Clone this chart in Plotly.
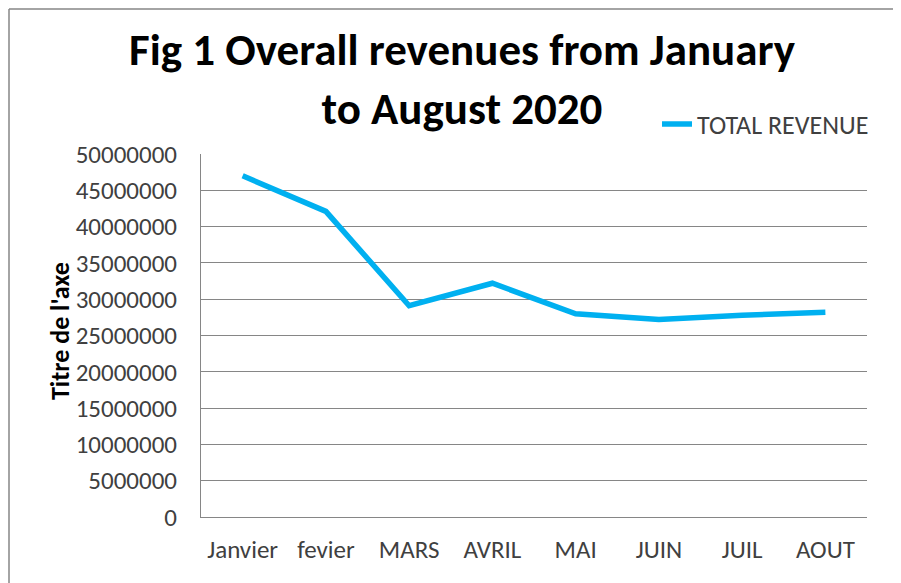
import plotly.graph_objects as go

months = ["Janvier", "fevier", "MARS", "AVRIL", "MAI", "JUIN", "JUIL", "AOUT"]
total_revenue = [47000000, 42100000, 29100000, 32200000, 28000000, 27200000, 27800000, 28200000]
y_ticks = list(range(0, 50000001, 5000000))

font_family = "Carlito, Calibri, Lato, sans-serif"

# page body has an 8px margin, so plot box is placed in figure px accordingly
left, right, top, bottom = 193, 859, 146, 509
pw, ph = right - left, bottom - top


def px(x):
    return (x - 8 - left) / pw


def py(y):
    return (bottom - (y - 8)) / ph


fig = go.Figure()
fig.add_trace(go.Scatter(x=months, y=total_revenue, mode="lines", name="TOTAL REVENUE",
                         line=dict(color="#00B0F0", width=5.5)))

fig.update_layout(
    width=901, height=583,
    margin=dict(l=left, r=901 - right, t=top, b=583 - bottom, autoexpand=False),
    paper_bgcolor="white", plot_bgcolor="white",
    font=dict(family=font_family, color="#404040", size=25),
    legend=dict(x=px(874), xanchor="right", y=py(124), yanchor="middle",
                font=dict(size=26, color="#404040"), bgcolor="rgba(0,0,0,0)",
                itemwidth=30),
    showlegend=True,
)
fig.update_xaxes(range=[-0.5, 7.5], showline=True, linecolor="#868686", linewidth=1, ticks="",
                 ticklabelstandoff=10, showgrid=False)
fig.update_yaxes(range=[0, 50000000], tickvals=y_ticks, ticktext=[str(v) for v in y_ticks],
                 showgrid=True, gridcolor="#868686", gridwidth=1,
                 showline=True, linecolor="#868686", linewidth=1,
                 zeroline=False, ticklabelstandoff=18)

# title
fig.add_annotation(text="<b>Fig 1 Overall revenues from January<br>to August 2020</b>",
                   xref="paper", yref="paper", x=px(462), y=py(79),
                   xanchor="center", yanchor="middle", showarrow=False,
                   font=dict(size=45, color="black", family=font_family))

fig.add_annotation(text="<b>Titre de l'axe</b>", textangle=-90, xref="paper", yref="paper",
                   x=px(60), y=py(331), xanchor="center", yanchor="middle",
                   showarrow=False, font=dict(size=26, color="black", family=font_family))

# chart border (left and top edges)
fig.add_shape(type="line", xref="paper", yref="paper", x0=px(9), x1=px(9), y0=py(9), y1=py(600),
              line=dict(color="#868686", width=1.5))
fig.add_shape(type="line", xref="paper", yref="paper", x0=px(9), x1=px(920), y0=py(9), y1=py(9),
              line=dict(color="#868686", width=1.5))

fig.write_html("out.html")
